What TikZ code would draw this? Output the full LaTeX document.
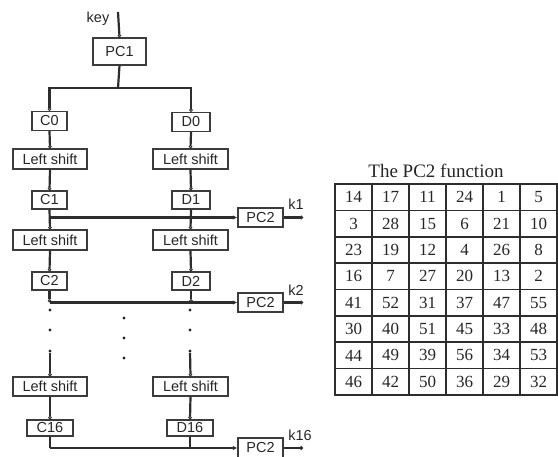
\documentclass[tikz,border=0pt]{standalone}
\usepackage{fontspec}
\setmainfont{Liberation Serif}
\newfontfamily\arialfont{Liberation Sans}
\usepackage{xcolor}
\definecolor{LineGray}{RGB}{45,45,45}
\definecolor{BoxGray}{RGB}{60,60,60}
\usepackage{tikz}
\usetikzlibrary{positioning, arrows.meta}

\begin{document}
\begin{tikzpicture}[x=1pt, y=-1pt,
    blk/.style={draw=BoxGray, line width=1.3pt, fill=white, inner sep=0pt,
      font=\arialfont\fontsize{14.5}{16}\selectfont, text=black!85},
    wire/.style={draw=LineGray, line width=2.2pt},
    feed/.style={wire, -{Circle[open, length=3.5pt, line width=0.9pt]}},
    into/.style={wire, -{Latex[length=4.5pt, width=4.5pt]}},
    outp/.style={wire, -{Circle[length=3.5pt]}},
    lbl/.style={font=\arialfont\fontsize{14.5}{16}\selectfont, text=black!85, inner sep=0pt},
    dot/.style={circle, fill=black!85, inner sep=0pt, minimum size=3.4pt}]
  \useasboundingbox (0,0) rectangle (558,457);

  % Clave / Key
  \coordinate (keyin) at (118,12);
  \node[lbl] (keylbl) at (98,19) {key};
  \node[blk, minimum width=53pt, minimum height=27pt] (pc1) at (119.5,51.5) {PC1};
  \coordinate (split) at (118,88);

  % Columna C / column C
  \node[blk, minimum width=35pt, minimum height=19pt] (c0) at (49.5,121) {C0};
  \node[blk, minimum width=74pt, minimum height=20pt] (lsc1) at (50,159) {Left shift};
  \node[blk, minimum width=35pt, minimum height=18pt] (c1) at (49.5,200) {C1};
  \node[blk, minimum width=74pt, minimum height=20pt] (lsc2) at (50,240) {Left shift};
  \node[blk, minimum width=35pt, minimum height=18pt] (c2) at (49.5,281) {C2};
  \node[blk, minimum width=74pt, minimum height=19pt] (lsc16) at (50,386.5) {Left shift};
  \node[blk, minimum width=46pt, minimum height=16pt] (c16) at (50,428) {C16};

  % Columna D / column D
  \node[blk, minimum width=38pt, minimum height=19pt] (d0) at (191,122) {D0};
  \node[blk, minimum width=75pt, minimum height=20pt] (lsd1) at (190.5,159) {Left shift};
  \node[blk, minimum width=38pt, minimum height=18pt] (d1) at (191,200) {D1};
  \node[blk, minimum width=75pt, minimum height=20pt] (lsd2) at (190.5,240) {Left shift};
  \node[blk, minimum width=38pt, minimum height=18pt] (d2) at (191,281) {D2};
  \node[blk, minimum width=75pt, minimum height=19pt] (lsd16) at (190.5,386.5) {Left shift};
  \node[blk, minimum width=46pt, minimum height=16pt] (d16) at (190,428) {D16};

  % PC2 / subkeys
  \node[blk, minimum width=45pt, minimum height=19pt] (pc2a) at (260.5,217.5) {PC2};
  \node[blk, minimum width=45pt, minimum height=19pt] (pc2b) at (260.5,302.5) {PC2};
  \node[blk, minimum width=45pt, minimum height=20pt] (pc2c) at (260.5,448) {PC2};
  \node[lbl] (k1) at (296,204) {k1};
  \node[lbl] (k2) at (296,290) {k2};
  \node[lbl] (k16) at (300,435) {k16};
  \coordinate (o1) at (303,217.5);
  \coordinate (o2) at (303,302.5);
  \coordinate (o16) at (303,448);

  % Conexiones / wires
  \draw[feed] (keyin) -- (pc1.north);
  \draw[wire] (pc1.south) -- (split);
  \draw[feed] (split) -| (c0.north);
  \draw[feed] (split) -| (d0.north);
  \draw[feed] (c0.south) -- (lsc1.north);
  \draw[feed] (d0.south) -- (lsd1.north);
  \draw[feed] (lsc1.south) -- (c1.north);
  \draw[feed] (lsd1.south) -- (d1.north);
  \draw[feed] (c1.south) -- (lsc2.north);
  \draw[feed] (d1.south) -- (lsd2.north);
  \draw[into] (c1.south |- pc2a.west) -- (pc2a.west);
  \draw[feed] (lsc2.south) -- (c2.north);
  \draw[feed] (lsd2.south) -- (d2.north);
  \coordinate (t2) at (c2.south |- pc2b.west);
  \coordinate (u2) at (d2.south |- pc2b.west);
  \draw[feed] (c2.south) -- (t2);
  \draw[feed] (d2.south) -- (u2);
  \draw[into] (t2) -- (pc2b.west);

  % Puntos / dots
  \foreach \yy [count=\i] in {310,330,351} {
    \node[dot] (lp\i) at (50,\yy) {};
    \node[dot] (rp\i) at (190,\yy) {};
  }
  \foreach \yy [count=\i] in {318,338,358}
    \node[dot] (mp\i) at (124,\yy) {};
  \draw[feed] (lp3) -- (lsc16.north);
  \draw[feed] (rp3) -- (lsd16.north);
  \draw[feed] (lsc16.south) -- (c16.north);
  \draw[feed] (lsd16.south) -- (d16.north);
  \coordinate (t16) at (c16.south |- pc2c.west);
  \draw[wire] (c16.south) -- (t16);
  \draw[wire] (d16.south) -- (d16.south |- pc2c.west);
  \draw[into] (t16) -- (pc2c.west);

  % Salidas / outputs
  \draw[outp] (pc2a.east) -- (o1);
  \draw[outp] (pc2b.east) -- (o2);
  \draw[outp] (pc2c.east) -- (o16);

  % Tabla PC2 / PC2 table
  \node[font=\fontsize{19}{21}\selectfont, text=black!85] (ttl) at (436,171) {The PC2 function};
  \draw[draw=LineGray, line width=1.6pt] (335,184) rectangle (557,395);
  \foreach \c in {1,...,5}
    \draw[draw=LineGray, line width=1.6pt] (335+37*\c,184) -- (335+37*\c,395);
  \foreach \r in {1,...,7}
    \draw[draw=LineGray, line width=1.6pt] (335,184+26.375*\r) -- (557,184+26.375*\r);
  \foreach \row [count=\r] in {{14,17,11,24,1,5},{3,28,15,6,21,10},{23,19,12,4,26,8},
      {16,7,27,20,13,2},{41,52,31,37,47,55},{30,40,51,45,33,48},
      {44,49,39,56,34,53},{46,42,50,36,29,32}}
    \foreach \v [count=\c] in \row
      \node[font=\fontsize{17}{19}\selectfont, text=black!85, inner sep=0pt]
        (n\r-\c) at (335+37*\c-18.5, 184+26.375*\r-13.2) {\v};
\end{tikzpicture}
\end{document}
